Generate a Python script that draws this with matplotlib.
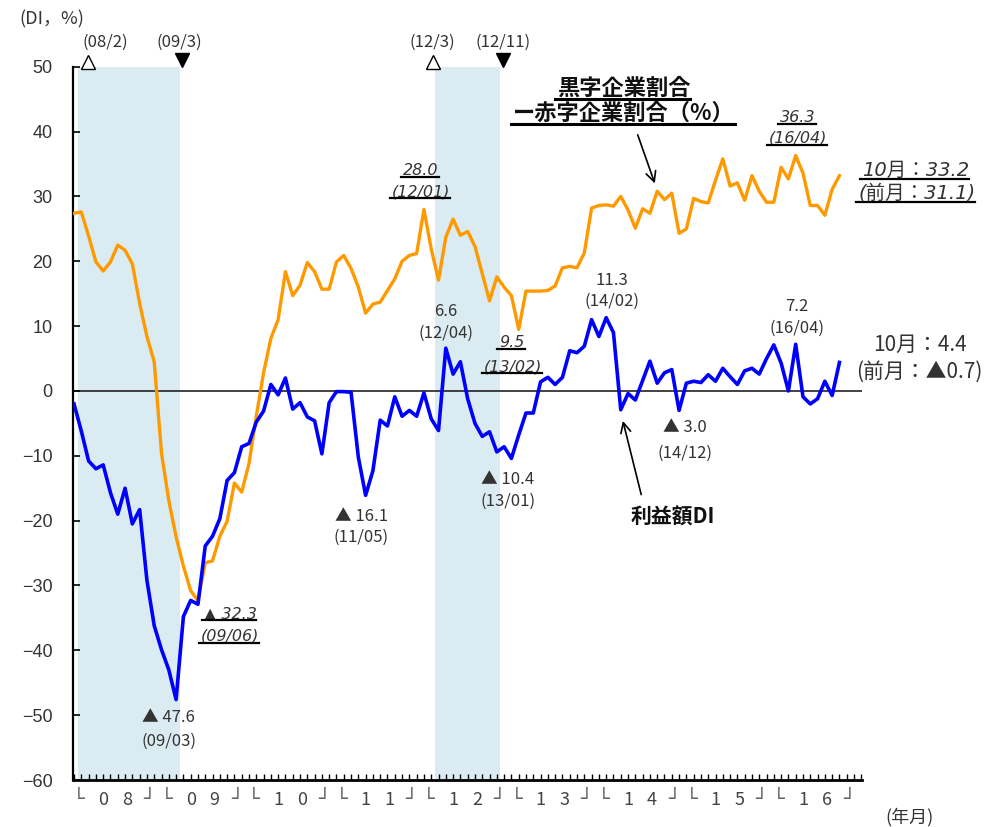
import matplotlib
matplotlib.use("Agg")
import matplotlib.pyplot as plt
from matplotlib.lines import Line2D
import matplotlib.transforms as mtransforms

plt.rcParams['font.family'] = ['Noto Sans CJK JP', 'DejaVu Sans']

# ===============================
# DATA (monthly, 2008/01 - 2016/10)
# ===============================

years = ["08", "09", "10", "11", "12", "13", "14", "15", "16"]

# 黒字企業割合 - 赤字企業割合 (%)
balance_pct = [
    27.4, 27.6, 23.9, 19.9, 18.5, 19.9, 22.5, 21.7, 19.6, 13.5, 8.4, 4.5,
    -9.6, -16.9, -22.5, -27.0, -30.8, -32.3, -26.5, -26.2, -22.4, -20.1, -14.2, -15.6,
    -11.2, -3.9, 2.8, 8.1, 11.0, 18.4, 14.7, 16.3, 19.8, 18.4, 15.7, 15.7,
    19.9, 20.9, 18.9, 16.0, 12.0, 13.4, 13.7, 15.5, 17.3, 20.0, 20.9, 21.2,
    28.0, 21.9, 17.1, 23.7, 26.5, 24.0, 24.6, 22.3, 18.1, 13.9, 17.6, 16.0,
    14.7, 9.5, 15.4, 15.4, 15.4, 15.5, 16.2, 19.0, 19.2, 19.0, 21.3, 28.2,
    28.6, 28.7, 28.5, 30.0, 27.9, 25.1, 28.1, 27.4, 30.8, 29.5, 30.5, 24.3,
    25.0, 29.7, 29.2, 29.0, 32.5, 35.8, 31.6, 32.1, 29.4, 33.2, 30.8, 29.1,
    29.1, 34.5, 32.7, 36.3, 33.6, 28.6, 28.6, 27.1, 31.1, 33.2,
]

# 利益額DI
profit_di = [
    -2.0, -6.2, -10.8, -12.0, -11.4, -15.7, -19.0, -15.0, -20.5, -18.3, -29.2, -36.2,
    -39.9, -43.0, -47.6, -34.8, -32.3, -32.9, -23.9, -22.4, -19.7, -13.8, -12.6, -8.6,
    -8.1, -4.8, -3.1, 1.0, -0.6, 2.0, -2.8, -1.8, -4.0, -4.6, -9.7, -1.8,
    -0.1, -0.1, -0.2, -10.2, -16.1, -12.3, -4.5, -5.4, -0.9, -3.9, -3.0, -3.9,
    -0.3, -4.3, -6.1, 6.6, 2.6, 4.5, -1.2, -5.0, -7.0, -6.3, -9.4, -8.6,
    -10.4, -6.8, -3.4, -3.4, 1.4, 2.1, 1.0, 2.1, 6.2, 5.9, 6.9, 11.0,
    8.4, 11.3, 9.0, -2.9, -0.4, -1.4, 1.6, 4.6, 1.2, 2.8, 3.3, -3.0,
    1.2, 1.5, 1.3, 2.5, 1.5, 3.5, 2.2, 1.0, 3.1, 3.5, 2.6, 5.0,
    7.1, 4.3, 0.0, 7.2, -0.9, -2.0, -1.2, 1.5, -0.7, 4.4,
]

# recession shading (month index start/end)
shade_spans = [(0.5, 14.5), (49.5, 58.5)]

months = list(range(len(profit_di)))

# ===============================
# FIGURE
# ===============================

fig = plt.figure(figsize=(9.88, 8.27), dpi=100)
ax = fig.add_axes([0.0742, 0.0568, 0.7983, 0.8625])

for s, e in shade_spans:
    ax.axvspan(s, e, color="#daecf2", lw=0, zorder=0)

ax.axhline(0, color="#222222", lw=1.2, zorder=1)
ax.plot(months, balance_pct, color="#ff9900", lw=2.4, zorder=3)
ax.plot(months, profit_di, color="#0000ff", lw=2.6, zorder=4)

ax.set_xlim(-0.1, 108.1)
ax.set_ylim(-60, 50)

for side in ["top", "right"]:
    ax.spines[side].set_visible(False)
ax.spines["left"].set_linewidth(1.6)
ax.spines["bottom"].set_linewidth(2.0)

ax.set_yticks(range(-60, 51, 10))
ax.set_yticklabels([f"{v}".replace("-", "\u2212") for v in range(-60, 51, 10)],
                   family="Liberation Sans", fontsize=13, color="#333333")
ax.tick_params(axis="y", direction="in", length=5, width=1.2, pad=15)
ax.set_xticks(range(0, 109))
ax.set_xticklabels([])
ax.tick_params(axis="x", direction="in", length=4, width=1.0)

# year labels "└ 0 8 ┘"
trans = mtransforms.blended_transform_factory(ax.transData, ax.transAxes)
for k, yr in enumerate(years):
    s = 12 * k
    kw = dict(transform=trans, ha="center", va="center", color="#444444", clip_on=False)
    ax.text(s + 0.7, -0.028, "└", family="DejaVu Sans", fontsize=14, color="#666666",
            transform=trans, ha="center", va="center", clip_on=False)
    ax.text(s + 4.0, -0.028, yr[0], fontsize=13, **kw)
    ax.text(s + 7.3, -0.028, yr[1], fontsize=13, **kw)
    ax.text(s + 10.3, -0.028, "┘", family="DejaVu Sans", fontsize=14, color="#666666",
            transform=trans, ha="center", va="center", clip_on=False)

fig.text(0.921, 0.012, "(年月)", ha="center", va="center", fontsize=13, color="#333333")
fig.text(0.052, 0.976, "(DI，%)", ha="center", va="center", fontsize=13, color="#333333")

# peak / trough markers at top
ax.plot([1.9, 49.2], [50.75, 50.75], ls="none", marker="^", ms=10, mfc="white",
        mec="black", mew=1.0, clip_on=False, zorder=5)
ax.plot([14.8, 58.8], [51.0, 51.0], ls="none", marker="v", ms=10, color="black",
        clip_on=False, zorder=5)
for x, lbl in [(4.25, "(08/2)"), (14.5, "(09/3)"), (49.1, "(12/3)"), (58.8, "(12/11)")]:
    ax.text(x, 53.8, lbl, ha="center", va="center", fontsize=12, color="#333333", clip_on=False)

# ===============================
# ANNOTATIONS
# ===============================

blue_notes = [
    (13.0, -50.4, "▲ 47.6"), (13.0, -54.0, "(09/03)"),
    (39.4, -19.3, "▲ 16.1"), (39.4, -22.5, "(11/05)"),
    (51.0, 12.3, "6.6"), (51.0, 8.9, "(12/04)"),
    (59.5, -13.6, "▲ 10.4"), (59.5, -17.0, "(13/01)"),
    (73.8, 17.1, "11.3"), (73.8, 13.8, "(14/02)"),
    (83.8, -5.7, "▲ 3.0"), (83.8, -9.6, "(14/12)"),
    (99.2, 13.1, "7.2"), (99.2, 9.7, "(16/04)"),
]
for x, y, s in blue_notes:
    ax.text(x, y, s, ha="center", va="center", fontsize=12, color="#333333", clip_on=False)

ax.text(116.0, 7.1, "10月：4.4", ha="center", va="center", fontsize=15, color="#333333", clip_on=False)
ax.text(116.0, 2.9, "(前月：▲0.7)", ha="center", va="center", fontsize=15, color="#333333", clip_on=False)

orange_notes = [
    (21.4, -34.3, "▲ 32.3", 11.5), (21.4, -37.8, "(09/06)", 11.5),
    (47.6, 34.0, "28.0", 11.5), (47.6, 30.7, "(12/01)", 11.5),
    (60.1, 7.4, "9.5", 11.5), (60.2, 3.7, "(13/02)", 11.5),
    (99.3, 42.2, "36.3", 11.5), (99.3, 39.0, "(16/04)", 11.5),
    (115.4, 34.0, "10月：33.2", 14), (115.6, 30.5, "(前月：31.1)", 14),
]
underlined = []
for x, y, s, fs in orange_notes:
    t = ax.text(x, y, s, ha="center", va="center", fontsize=fs, style="italic",
                family=["DejaVu Sans", "Noto Sans CJK JP"], color="#333333", clip_on=False)
    underlined.append((t, 1.6))

for y, s in [(46.7, "黒字企業割合"), (42.8, "ー赤字企業割合（%）")]:
    t = ax.text(75.4, y, s, ha="center", va="center", fontsize=16, weight="bold",
                color="#111111", clip_on=False)
    underlined.append((t, 2.2))

ax.text(82.2, -19.4, "利益額DI", ha="center", va="center", fontsize=15, weight="bold",
        color="#111111", clip_on=False)

ax.annotate("", xy=(79.8, 31.6), xytext=(77.2, 39.9),
            arrowprops=dict(arrowstyle="->", color="black", lw=1.2, mutation_scale=18))
ax.annotate("", xy=(75.2, -4.2), xytext=(77.9, -16.4),
            arrowprops=dict(arrowstyle="->", color="black", lw=1.2, mutation_scale=18))

# underline the orange labels
fig.canvas.draw()
renderer = fig.canvas.get_renderer()
inv = fig.transFigure.inverted()
for t, lw in underlined:
    bb = t.get_window_extent(renderer)
    x0, y0 = inv.transform((bb.x0 - 2, bb.y0 + 1))
    x1, _ = inv.transform((bb.x1, bb.y0 + 1))
    fig.add_artist(Line2D([x0, x1], [y0, y0], transform=fig.transFigure, color="black", lw=lw))

fig.savefig("out.png", dpi=100)
plt.close(fig)
